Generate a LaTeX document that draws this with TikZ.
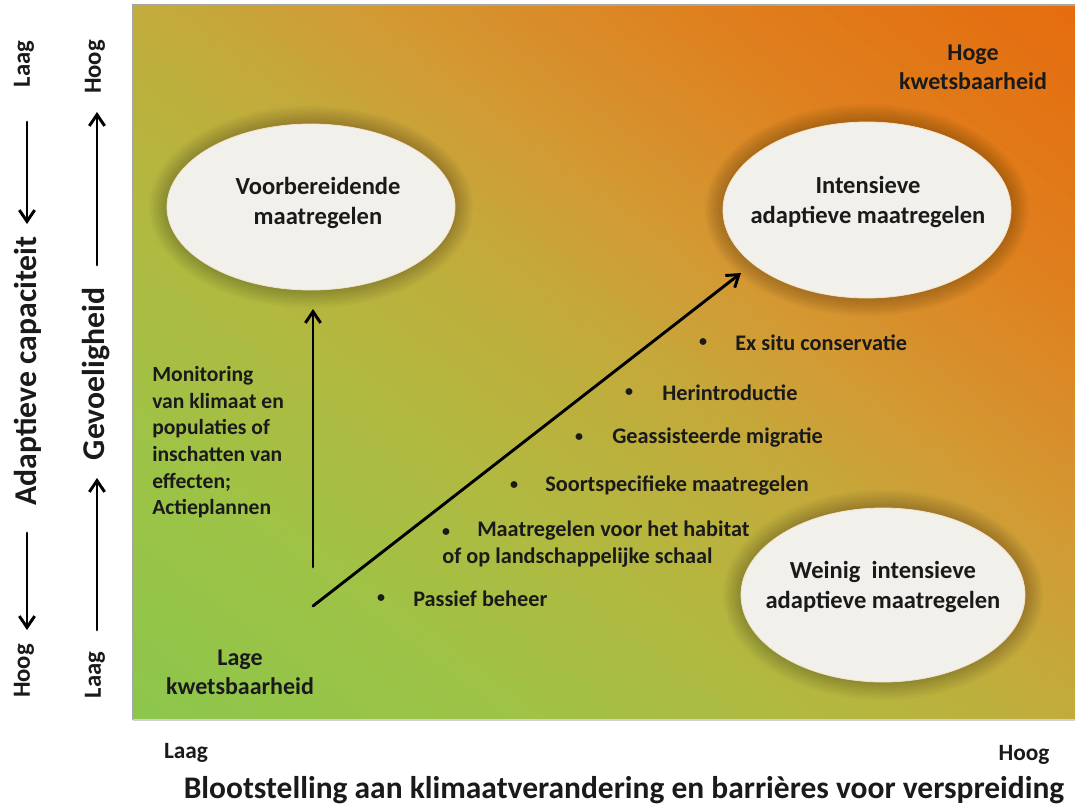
\documentclass[tikz,border=0pt]{standalone}
\usepackage{fontspec}
\setmainfont{Carlito}
\usetikzlibrary{arrows.meta,shapes.geometric}

\definecolor{inkdark}{HTML}{1A1A1A}
% colour stops of the diagonal field
\definecolor{fgA}{RGB}{140,198,76}
\definecolor{fgB}{RGB}{158,195,70}
\definecolor{fgC}{RGB}{180,183,63}
\definecolor{fgD}{RGB}{193,172,60}
\definecolor{fgE}{RGB}{211,154,52}
\definecolor{fgF}{RGB}{223,127,30}
\definecolor{fgG}{RGB}{229,108,14}
\definecolor{bubblefill}{HTML}{F2F0EA}
\definecolor{bubbleedge}{HTML}{F3E2C8}

% one stretch of the field, bands parallel to the falling diagonal:
% start t, end t, start colour, end colour (unit square coordinates)
\newcommand\fieldband[4]{%
  \foreach \k in {0,...,15}{%
    \pgfmathsetmacro\ta{2*(#1+(#2-#1)*\k/16)}%
    \pgfmathsetmacro\tb{2*(#1+(#2-#1)*(\k+1.4)/16)}%
    \pgfmathsetmacro\pc{(\k+0.5)*100/16}%
    \fill[#4!\pc!#3] (\ta,0) -- (0,\ta) -- (0,\tb) -- (\tb,0) -- cycle;
  }%
}

% soft dark halo behind an ellipse: centre x, centre y, x radius, y radius
\newcommand\bubblehalo[4]{%
  \foreach \k in {1,...,14}{%
    \fill[black,opacity=0.016] (#1,#2) ellipse [x radius={#3+\k*1.3}, y radius={#4+\k*1.3}];
  }%
}

\begin{document}
\begin{tikzpicture}[x=0.75pt,y=-0.75pt,
  every node/.style={font=\bfseries, text=inkdark, inner sep=0pt},
  bubble/.style 2 args={ellipse, fill=bubblefill, draw=bubbleedge, line width=0.6pt,
    minimum width=#1*0.75pt, minimum height=#2*0.75pt},
  bubbletext/.style={align=center, font=\bfseries\fontsize{18.4}{22.5}\selectfont},
  itemtext/.style={anchor=west, font=\bfseries\fontsize{16.7}{20}\selectfont},
  dot/.style={font=\bfseries\fontsize{12}{14}\selectfont},
  zonetext/.style={align=center, font=\bfseries\fontsize{18}{21.5}\selectfont},
  endtext/.style={font=\bfseries\fontsize{17.5}{21}\selectfont},
  sidetitle/.style={rotate=90, font=\bfseries\fontsize{23.8}{28}\selectfont},
  sideend/.style={rotate=90, font=\bfseries\fontsize{18.5}{21}\selectfont},
  arrowline/.style={line width=2.2pt, line cap=round,
    -{Straight Barb[length=8.5pt,width=11.5pt,line width=2.2pt]}}
]
\useasboundingbox (0,0) rectangle (1075,807);

% graded field
\begin{scope}[shift={(133,720)}, x={(706.5pt,0pt)}, y={(0pt,536.25pt)}]
  \clip (0,0) rectangle (1,1);
  \fieldband{0}{0.2}{fgA}{fgB}
  \fieldband{0.2}{0.38}{fgB}{fgC}
  \fieldband{0.38}{0.5}{fgC}{fgD}
  \fieldband{0.5}{0.62}{fgD}{fgE}
  \fieldband{0.62}{0.8}{fgE}{fgF}
  \fieldband{0.8}{1}{fgF}{fgG}
\end{scope}
\draw[gray!70, line width=0.8pt] (133,720) -- (133,5) -- (1075,5);
\draw[gray!35, line width=0.8pt] (133,720) -- (1075,720);

% measure bubbles
\bubblehalo{311}{207}{144}{83}
\bubblehalo{867}{210}{144}{88}
\bubblehalo{883}{595}{142}{87}
\node[bubble={288}{166}] (prep) at (311,207) {};
\node[bubble={288}{176}] (intens) at (867,210) {};
\node[bubble={284}{174}] (weinig) at (883,595) {};
\node[bubbletext] (preptxt) at (318,203) {Voorbereidende\\maatregelen};
\node[bubbletext] (intenstxt) at (868,202) {Intensieve\\adaptieve maatregelen};
\node[bubbletext] (weinigtxt) at (883,587) {Weinig\ \ intensieve\\adaptieve maatregelen};

% corner labels
\node[zonetext] (hoge) at (973,67) {Hoge\\kwetsbaarheid};
\node[zonetext] (lage) at (240,672) {Lage\\kwetsbaarheid};

% arrows from the origin
\coordinate (origin) at (313,606);
\coordinate (vstart) at (313,567);
\coordinate (vtip) at (313,309);
\coordinate (dtip) at (741,273);
\draw[arrowline] (vstart) -- (vtip);
\draw[arrowline] (origin) -- (dtip);

% monitoring note
\node[anchor=north west, align=left, font=\bfseries\fontsize{16.2}{20}\selectfont]
  (monitor) at (152,366) {Monitoring\\van klimaat en\\populaties of\\inschatten van\\effecten;\\Actieplannen};

% list of measures
\node[dot] (b1) at (381,599) {•};
\node[itemtext] (t1) at (413,599) {Passief beheer};
\node[dot] (b2) at (446,533) {•};
\node[itemtext, anchor=north west, align=left] (t2) at (442,521)
  {\hspace*{26.25pt}Maatregelen voor het habitat\\of op landschappelijke schaal};
\node[dot] (b3) at (514,486) {•};
\node[itemtext] (t3) at (545,486) {Soortspecifieke maatregelen};
\node[dot] (b4) at (579,438) {•};
\node[itemtext] (t4) at (612,438) {Geassisteerde migratie};
\node[dot] (b5) at (629,393) {•};
\node[itemtext] (t5) at (662,393) {Herintroductie};
\node[dot] (b6) at (703,343) {•};
\node[itemtext] (t6) at (735,343) {Ex situ conservatie};

% horizontal axis
\node[endtext] (xlow) at (186,753) {Laag};
\node[endtext] (xhigh) at (1024,755) {Hoog};
\node[font=\bfseries\fontsize{23.6}{28}\selectfont] (xtitle) at (624,790)
  {Blootstelling aan klimaatverandering en barrières voor verspreiding};

% adaptive capacity axis
\node[sideend] (caplow) at (24,64) {Laag};
\node[sidetitle] (captitle) at (28,371) {Adaptieve capaciteit};
\node[sideend] (caphigh) at (24,671) {Hoog};
\coordinate (cap1s) at (27,122);
\coordinate (cap1e) at (27,224);
\coordinate (cap2s) at (27,533);
\coordinate (cap2e) at (27,630);
\draw[arrowline] (cap1s) -- (cap1e);
\draw[arrowline] (cap2s) -- (cap2e);

% sensitivity axis
\node[sideend] (senhigh) at (95,67) {Hoog};
\node[sidetitle] (sentitle) at (96,374) {Gevoeligheid};
\node[sideend] (senlow) at (95,675) {Laag};
\coordinate (sen1s) at (97,265);
\coordinate (sen1e) at (97,112);
\coordinate (sen2s) at (97,630);
\coordinate (sen2e) at (97,478);
\draw[arrowline] (sen1s) -- (sen1e);
\draw[arrowline] (sen2s) -- (sen2e);
\end{tikzpicture}
\end{document}
